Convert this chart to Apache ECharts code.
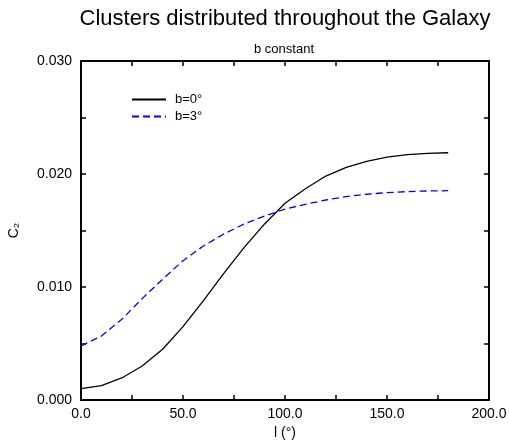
<!DOCTYPE html>
<html>
<head>
<meta charset="utf-8">
<script src="https://cdn.jsdelivr.net/npm/echarts@6/dist/echarts.min.js"></script>
<style>
  html, body { margin: 0; padding: 0; background: #fff; }
  #chart { width: 509px; height: 445px; }
</style>
</head>
<body>
<div id="chart"></div>
<script>
// Galactic longitude l (degrees)
const longitudes = [0, 10, 20, 30, 40, 50, 60, 70, 80, 90, 100, 110, 120, 130, 140, 150, 160, 170, 180];
// C2 for latitude b = 0°
const c2b0 = [0.00100, 0.00127, 0.00195, 0.00301, 0.00449, 0.00649, 0.00879, 0.01121, 0.01351, 0.01558,
              0.01741, 0.01870, 0.01982, 0.02059, 0.02112, 0.02150, 0.02171, 0.02183, 0.02188];
// C2 for latitude b = 3°
const c2b3 = [0.00478, 0.00566, 0.00714, 0.00897, 0.01068, 0.01233, 0.01363, 0.01469, 0.01558, 0.01628,
              0.01690, 0.01732, 0.01770, 0.01800, 0.01821, 0.01835, 0.01844, 0.01850, 0.01852];
const seriesNames = ['b=0°', 'b=3°'];

const font = 'Liberation Sans, Arial, sans-serif';
const chart = echarts.init(document.getElementById('chart'), null, { renderer: 'canvas' });

const pair = (xs, ys) => xs.map((x, i) => [x, ys[i]]);

const axisLine = { show: true, onZero: false, lineStyle: { color: '#000', width: 2 } };
const tick = { show: true, inside: true, length: 5, lineStyle: { color: '#000', width: 1.5 } };
const minor = { show: true, splitNumber: 2, length: 5, lineStyle: { color: '#000', width: 1.5 } };

chart.setOption({
  animation: false,
  backgroundColor: '#fff',
  title: [
    { text: 'Clusters distributed throughout the Galaxy', left: 280, top: 3, textAlign: 'center',
      textStyle: { fontFamily: font, fontSize: 22, fontWeight: 'normal', color: '#000' } },
    { text: 'b constant', left: 279, top: 38, textAlign: 'center',
      textStyle: { fontFamily: font, fontSize: 13, fontWeight: 'normal', color: '#000' } }
  ],
  legend: {
    left: 131, top: 93, padding: 0, orient: 'vertical', itemWidth: 34, itemHeight: 14, itemGap: 4,
    itemStyle: { opacity: 0 },
    textStyle: { fontFamily: font, fontSize: 13, color: '#000', padding: [0, 0, 0, 4] },
    data: seriesNames
  },
  grid: { left: 81, right: 20, top: 61, bottom: 45, containLabel: false, outerBoundsMode: 'none' },
  xAxis: [
    { type: 'value', min: 0, max: 200, interval: 50, position: 'bottom',
      name: 'l (°)', nameLocation: 'middle', nameGap: 26,
      nameTextStyle: { fontFamily: font, fontSize: 14, color: '#000' },
      axisLine, axisTick: tick, minorTick: minor, splitLine: { show: false },
      axisLabel: { fontFamily: font, fontSize: 14, color: '#000', margin: 7,
                   formatter: v => v.toFixed(1) } },
    { type: 'value', min: 0, max: 200, interval: 50, position: 'top',
      axisLine, axisTick: tick, minorTick: minor, splitLine: { show: false },
      axisLabel: { show: false } }
  ],
  yAxis: [
    { type: 'value', min: 0, max: 0.03, interval: 0.01, position: 'left',
      name: 'C₂', nameLocation: 'middle', nameGap: 60, nameRotate: 90,
      nameTextStyle: { fontFamily: font, fontSize: 14, color: '#000' },
      axisLine, axisTick: tick, minorTick: minor, splitLine: { show: false },
      axisLabel: { fontFamily: font, fontSize: 14, color: '#000', margin: 9,
                   formatter: v => v.toFixed(3) } },
    { type: 'value', min: 0, max: 0.03, interval: 0.01, position: 'right',
      axisLine, axisTick: tick, minorTick: minor, splitLine: { show: false },
      axisLabel: { show: false } }
  ],
  series: [
    { name: seriesNames[0], type: 'line', data: pair(longitudes, c2b0),
      showSymbol: false, symbol: 'none', smooth: false,
      lineStyle: { color: '#000', width: 1.3 }, itemStyle: { color: '#000' } },
    { name: seriesNames[1], type: 'line', data: pair(longitudes, c2b3),
      showSymbol: false, symbol: 'none', smooth: false,
      lineStyle: { color: '#0000ff', width: 1.3, type: [7, 4] }, itemStyle: { color: '#0000ff' } }
  ]
});
</script>
</body>
</html>
